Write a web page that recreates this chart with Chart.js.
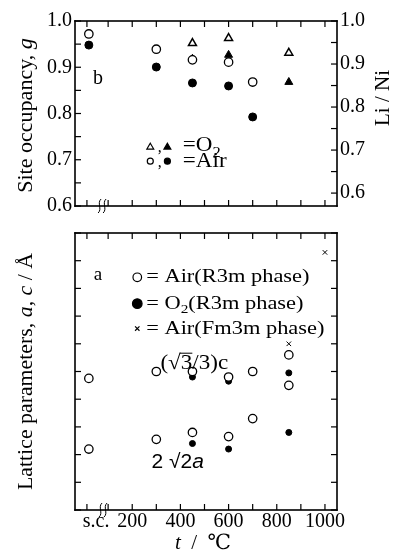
<!DOCTYPE html>
<html lang="en">
<head>
<meta charset="utf-8">
<title>Site occupancy and lattice parameters</title>
<script src="https://cdn.jsdelivr.net/npm/chart.js@4.4.1/dist/chart.umd.min.js"></script>
<style>
  html, body { margin: 0; padding: 0; background: #fff; }
</style>
</head>
<body>
<canvas id="chart" width="395" height="551"></canvas>

<script>
// ---- data (temperatures in degC, s.c. = single crystal drawn at ~20) ----
// upper panel: open symbols = site occupancy g (left axis), filled = Li/Ni (right axis)
var airTemps = [20, 300, 450, 600, 700];
var airG     = [0.972, 0.939, 0.916, 0.911, 0.868];
var airLiNi  = [0.944, 0.893, 0.856, 0.849, 0.777];
var o2Temps  = [450, 600, 850];
var o2G      = [0.952, 0.963, 0.931];
var o2LiNi   = [0.912, 0.921, 0.858];

// lower panel: lattice parameters
var airCTemps  = [20, 300, 450, 600, 700, 850];
var airC       = [8.195, 8.200, 8.200, 8.196, 8.200, 8.212];
var airATemps  = [20, 300, 450, 600, 700, 850];
var airA       = [8.144, 8.151, 8.156, 8.153, 8.166, 8.190];
var o2CTemps   = [450, 600, 850];
var o2C        = [8.196, 8.193, 8.199];
var o2ATemps   = [450, 600, 850];
var o2A        = [8.148, 8.144, 8.156];
var cubicTemps = [850, 1000];
var cubicA     = [8.220, 8.286];

// ---- ticks ----
var xLabelValues = [50, 200, 400, 600, 800, 1000];
var xLabels      = ['s.c.', '200', '400', '600', '800', '1000'];
var xMarks       = [12, 100, 200, 300, 400, 500, 600, 700, 800, 900, 1000];
var gTicks       = [0.6, 0.7, 0.8, 0.9, 1.0];
var gMarks       = [0.6, 0.65, 0.7, 0.75, 0.8, 0.85, 0.9, 0.95, 1.0];
var liNiTicks    = [0.6, 0.7, 0.8, 0.9, 1.0];
var liNiMarks    = [0.6, 0.65, 0.7, 0.75, 0.8, 0.85, 0.9, 0.95, 1.0];
var latTicks     = [8.1, 8.2, 8.3];
var latMarks     = [8.1, 8.12, 8.14, 8.16, 8.18, 8.2, 8.22, 8.24, 8.26, 8.28, 8.3];

// ---- layout: both panels share one plot area, each y scale is stretched so
// its own range lands inside its panel ----
var AREA_TOP = 21, AREA_BOTTOM = 510;
var upperPanel = {top: 21, bottom: 206};
var lowerPanel = {top: 233, bottom: 510};

function stretched(lo, hi, panel) {
    var perPx = (hi - lo) / (panel.bottom - panel.top);
    return {
        min: lo - (AREA_BOTTOM - panel.bottom) * perPx,
        max: hi + (panel.top - AREA_TOP) * perPx
    };
}

var SERIF = '"Liberation Serif", "DejaVu Serif", serif';
var TICK = 6;

function pts(xs, ys) {
    return xs.map(function(x, i) { return {x: x, y: ys[i]}; });
}

// text with italic / subscript / overlined pieces
function rich(ctx, parts, x, y, o) {
    o = Object.assign({size: 20, family: SERIF, sx: 1, rot: 0, align: 'left'}, o || {});
    ctx.save();
    ctx.translate(x, y);
    if (o.rot) ctx.rotate(o.rot);
    ctx.scale(o.sx, 1);
    ctx.fillStyle = '#000';
    ctx.textBaseline = 'middle';
    var fontOf = function(p) {
        return (p.i ? 'italic ' : '') + Math.round(p.sub ? o.size * 0.7 : o.size) + 'px ' + (p.family || o.family);
    };
    var w = 0;
    parts.forEach(function(p) { ctx.font = fontOf(p); p.w = ctx.measureText(p.t).width; w += p.w; });
    var cx = o.align === 'center' ? -w / 2 : (o.align === 'right' ? -w : 0);
    parts.forEach(function(p) {
        ctx.font = fontOf(p);
        ctx.fillText(p.t, cx, p.sub ? o.size * 0.32 : 0);
        if (p.over) {
            ctx.fillRect(cx - 1, -o.size * 0.5, p.w + 1, 1);
        }
        cx += p.w;
    });
    ctx.restore();
}

function symbol(ctx, kind, x, y, r) {
    ctx.save();
    ctx.lineWidth = 1.2;
    ctx.strokeStyle = '#000';
    ctx.fillStyle = kind.indexOf('filled') === 0 ? '#000' : '#fff';
    ctx.beginPath();
    if (kind.indexOf('tri') > 0) {
        ctx.moveTo(x, y - r);
        ctx.lineTo(x + r * 0.95, y + r * 0.6);
        ctx.lineTo(x - r * 0.95, y + r * 0.6);
        ctx.closePath();
    } else if (kind === 'cross') {
        ctx.moveTo(x - r, y - r); ctx.lineTo(x + r, y + r);
        ctx.moveTo(x + r, y - r); ctx.lineTo(x - r, y + r);
        ctx.stroke();
        ctx.restore();
        return;
    } else {
        ctx.arc(x, y, r, 0, Math.PI * 2);
    }
    ctx.fill();
    ctx.stroke();
    ctx.restore();
}

function drawBreak(ctx, x, y) {
    ctx.save();
    ctx.strokeStyle = '#000';
    ctx.lineWidth = 1;
    [-2.5, 2.5].forEach(function(dx) {
        ctx.beginPath();
        ctx.moveTo(x + dx + 1.5, y - 7);
        ctx.bezierCurveTo(x + dx - 3, y - 3, x + dx + 3, y + 3, x + dx - 1.5, y + 7);
        ctx.stroke();
    });
    ctx.restore();
}

// one panel frame with inward ticks, placed with the chart's scales
function drawPanel(chart, T, B, leftScale, leftMarks, rightScale, rightMarks) {
    var ctx = chart.ctx, area = chart.chartArea, sx = chart.scales.x;
    var L = area.left, R = area.right;
    var tw = 1.2, fw = 1.6;
    ctx.save();
    ctx.fillStyle = '#000';
    xMarks.forEach(function(t) {
        var x = sx.getPixelForValue(t);
        ctx.fillRect(x - tw / 2, B - TICK, tw, TICK);
        ctx.fillRect(x - tw / 2, T, tw, TICK);
    });
    leftMarks.forEach(function(v) {
        ctx.fillRect(L, leftScale.getPixelForValue(v) - tw / 2, TICK, tw);
    });
    rightMarks.forEach(function(v) {
        ctx.fillRect(R - TICK, rightScale.getPixelForValue(v) - tw / 2, TICK, tw);
    });
    ctx.fillRect(L - fw / 2, T - fw / 2, R - L + fw, fw);
    ctx.fillRect(L - fw / 2, B - fw / 2, R - L + fw, fw);
    ctx.fillRect(L - fw / 2, T - fw / 2, fw, B - T + fw);
    ctx.fillRect(R - fw / 2, T - fw / 2, fw, B - T + fw);
    ctx.restore();
}

function drawExtras(chart) {
    var ctx = chart.ctx, sx = chart.scales.x, s = chart.scales;
    var yT = s.y, y2T = s.y2, yL = s.yLat;
    var upB = yT.getPixelForValue(0.6), upT = yT.getPixelForValue(1.0);
    var loB = yL.getPixelForValue(8.1), loT = yL.getPixelForValue(8.3);

    drawPanel(chart, upT, upB, yT, gMarks, y2T, liNiMarks);
    drawPanel(chart, loT, loB, yL, latMarks, yL, latMarks);
    drawBreak(ctx, sx.getPixelForValue(75), upB);
    drawBreak(ctx, sx.getPixelForValue(79), loB);

    // upper panel labels and legend
    rich(ctx, [{t: 'b'}], sx.getPixelForValue(58), yT.getPixelForValue(0.875), {align: 'center'});
    var r1 = yT.getPixelForValue(0.730), r2 = yT.getPixelForValue(0.697);
    symbol(ctx, 'open-tri', sx.getPixelForValue(275), r1 + 1, 3.6);
    symbol(ctx, 'filled-tri', sx.getPixelForValue(346), r1 + 1, 3.6);
    symbol(ctx, 'open-circle', sx.getPixelForValue(275), r2, 3);
    symbol(ctx, 'filled-circle', sx.getPixelForValue(346), r2, 3);
    rich(ctx, [{t: ','}], sx.getPixelForValue(306), r1 + 2, {size: 16});
    rich(ctx, [{t: ','}], sx.getPixelForValue(306), r2 + 2, {size: 16});
    rich(ctx, [{t: '=O'}, {t: '2', sub: true}], sx.getPixelForValue(410), r1, {size: 21, sx: 1.1});
    rich(ctx, [{t: '=Air'}], sx.getPixelForValue(410), r2, {size: 21, sx: 1.1});

    // lower panel labels and legend
    rich(ctx, [{t: 'a'}], sx.getPixelForValue(58), yL.getPixelForValue(8.270), {align: 'center', size: 19});
    var lx = sx.getPixelForValue(221), tx = sx.getPixelForValue(258);
    var l1 = yL.getPixelForValue(8.268), l2 = yL.getPixelForValue(8.249), l3 = yL.getPixelForValue(8.231);
    symbol(ctx, 'open-circle', lx, l1, 4.3);
    symbol(ctx, 'filled-circle', lx, l2, 4.8);
    symbol(ctx, 'cross', lx, l3, 2.2);
    rich(ctx, [{t: '= Air(R3m phase)'}], tx, l1, {size: 19, sx: 1.18});
    rich(ctx, [{t: '= O'}, {t: '2', sub: true}, {t: '(R3m phase)'}], tx, l2, {size: 19, sx: 1.18});
    rich(ctx, [{t: '= Air(Fm3m phase)'}], tx, l3, {size: 19, sx: 1.18});
    rich(ctx, [{t: '(\u221A'}, {t: '3', over: true}, {t: '/3)c'}],
        sx.getPixelForValue(317), yL.getPixelForValue(8.206), {size: 21, sx: 1.1});
    rich(ctx, [{t: '2 \u221A2'}, {t: 'a', i: true}],
        sx.getPixelForValue(280), yL.getPixelForValue(8.134), {size: 20, sx: 1.05, family: '"Liberation Sans", sans-serif'});

    // axis titles
    rich(ctx, [{t: 'Site occupancy, '}, {t: 'g', i: true}], 26, (upT + upB) / 2 + 2,
        {size: 21, sx: 1.05, rot: -Math.PI / 2, align: 'center'});
    rich(ctx, [{t: 'Li / Ni'}], 383, 98, {size: 21, rot: -Math.PI / 2, align: 'center'});
    rich(ctx, [{t: 'Lattice parameters, '}, {t: 'a', i: true}, {t: ', '}, {t: 'c', i: true}, {t: ' / \u00C5'}],
        26, (loT + loB) / 2, {size: 21, sx: 1.04, rot: -Math.PI / 2, align: 'center'});
    rich(ctx, [{t: 't', i: true}, {t: '  /  \u2103'}], 203, 543, {size: 21, align: 'center'});
}

var extras = {
    id: 'extras',
    afterDraw: function(chart) { drawExtras(chart); }
};

function fixedTicks(values) {
    return function(scale) { scale.ticks = values.map(function(v) { return {value: v}; }); };
}

var tickFont = {family: SERIF, size: 20};

function yScale(pos, range, ticks, width, weight) {
    return {
        type: 'linear', position: pos, weight: weight, min: range.min, max: range.max,
        grid: {display: false, drawTicks: false}, border: {display: false},
        afterBuildTicks: fixedTicks(ticks),
        afterFit: function(s) { s.width = width; },
        ticks: {
            autoSkip: false, padding: 3, color: '#000', font: tickFont,
            callback: function(v) { return v.toFixed(1); }
        }
    };
}

function ds(data, style, axis) {
    return Object.assign({data: data, showLine: false, borderColor: '#000', yAxisID: axis}, style);
}

var openCircle   = {pointStyle: 'circle', pointRadius: 4.2, backgroundColor: '#fff', borderWidth: 1.3};
var filledCircle = {pointStyle: 'circle', pointRadius: 4, backgroundColor: '#000', borderWidth: 1};
var smallFilled  = {pointStyle: 'circle', pointRadius: 3, backgroundColor: '#000', borderWidth: 1};
var openTri      = {pointStyle: 'triangle', pointRadius: 4.6, backgroundColor: '#fff', borderWidth: 1.5};
var filledTri    = {pointStyle: 'triangle', pointRadius: 4.6, backgroundColor: '#000', borderWidth: 1};
var cross        = {pointStyle: 'crossRot', pointRadius: 3.2, backgroundColor: '#000', borderWidth: 1};

var canvas = document.getElementById('chart');
canvas.getContext('2d', {willReadFrequently: true});

new Chart(canvas, {
    type: 'scatter',
    data: {
        datasets: [
            ds(pts(airTemps, airG), openCircle, 'y'),
            ds(pts(o2Temps, o2G), openTri, 'y'),
            ds(pts(airTemps, airLiNi), filledCircle, 'y2'),
            ds(pts(o2Temps, o2LiNi), filledTri, 'y2'),
            ds(pts(airCTemps, airC), openCircle, 'yLat'),
            ds(pts(airATemps, airA), openCircle, 'yLat'),
            ds(pts(o2CTemps, o2C), smallFilled, 'yLat'),
            ds(pts(o2ATemps, o2A), smallFilled, 'yLat'),
            ds(pts(cubicTemps, cubicA), cross, 'yLat')
        ]
    },
    plugins: [extras],
    options: {
        responsive: false,
        animation: false,
        events: [],
        layout: {padding: {top: AREA_TOP, bottom: 0, left: 0, right: 0}},
        plugins: {legend: {display: false}, tooltip: {enabled: false}},
        scales: {
            x: {
                type: 'linear', min: -37.5, max: 1050,
                grid: {display: false, drawTicks: false}, border: {display: false},
                afterBuildTicks: fixedTicks(xLabelValues),
                afterFit: function(s) { s.height = 551 - AREA_BOTTOM; },
                ticks: {
                    autoSkip: false, maxRotation: 0, padding: 0, color: '#000', font: tickFont,
                    callback: function(v, i) { return xLabels[i]; }
                }
            },
            // outer left scale (upper panel) and a zero-width inner one (lower panel)
            y: yScale('left', stretched(0.6, 1.0, upperPanel), gTicks, 75, 1),
            yLat: yScale('left', stretched(8.1, 8.3, lowerPanel), latTicks, 0, 0),
            y2: yScale('right', stretched(0.57, 1.0, upperPanel), liNiTicks, 58, 0)
        }
    }
});
</script>
</body>
</html>
